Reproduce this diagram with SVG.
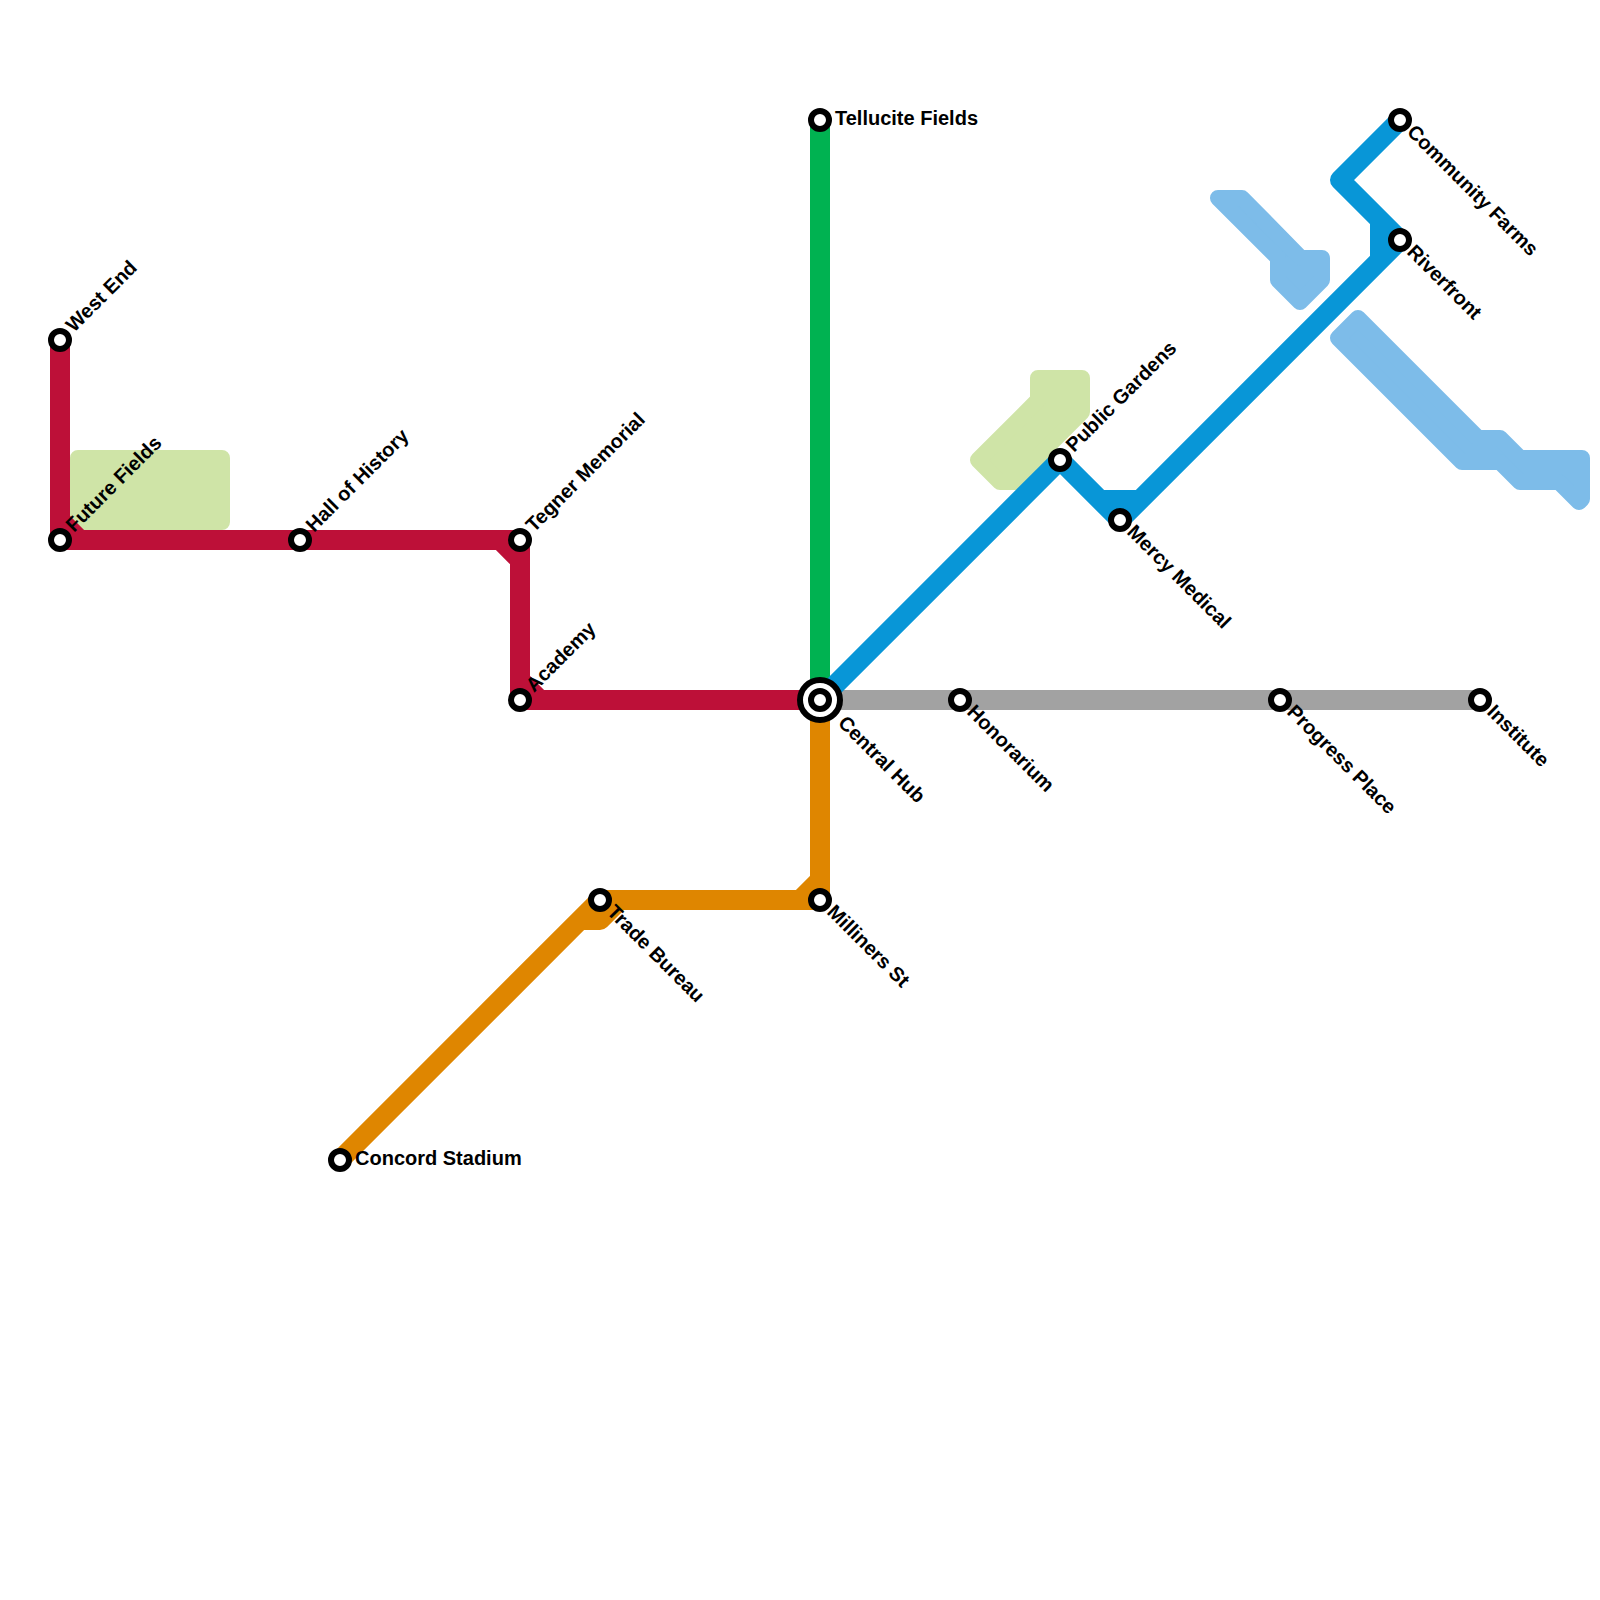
<svg xmlns="http://www.w3.org/2000/svg" width="1600" height="1600" viewBox="0 0 1600 1600">
<style>
.ln{fill:none;stroke-width:20;stroke-linejoin:round;stroke-linecap:butt}
.red{stroke:#bd1038}.grn{stroke:#00b251}.blu{stroke:#0896d7}.org{stroke:#df8600}.gry{stroke:#a2a2a2}
.st{fill:#fff;stroke:#000;stroke-width:6}
.lb{font-family:"Liberation Sans",Arial,sans-serif;font-weight:700;font-size:20px;fill:#000}
.pk{fill:#cfe4a7;stroke:#cfe4a7;stroke-width:16;stroke-linejoin:round}
.wt{fill:#7dbce9;stroke:#7dbce9;stroke-width:16;stroke-linejoin:round}
</style>
<g id="areas">
<polygon class="pk" points="78,458 222,458 222,522 78,522"/>
<polygon class="pk" points="1038,378 1082,378 1082,412 1040,454 1040,482 1000,482 978,460 1038,400"/>
<polygon class="wt" points="1218,198 1242,198 1301,258 1322,258 1322,280 1300,302 1278,280 1278,258"/>
<polygon class="wt" points="1358,318 1478,438 1500,438 1520,458 1582,458 1582,499 1579,502 1559,482 1520,482 1500,462 1462,462 1338,338"/>
</g>
<g id="connectors">
<path class="ln red" d="M60 340V540H520V700H820M500 540L520 560M520 680L540 700M60 520L80 540"/>
<path class="ln grn" d="M820 120V700"/>
<path class="ln gry" d="M820 700H1480"/>
<path class="ln org" d="M820 700V900H600L340 1160M800 900L820 880M600 900L580 920H600L620 900"/>
<path class="ln blu" d="M820 700L1060 460L1120 520L1400 240L1340 180L1400 120M1100 500H1140M1380 220V260"/>
</g>
<g id="st-west-end"><circle class="st" cx="60" cy="340" r="9"/><text class="lb" transform="translate(74 333) rotate(-45)">West End</text></g>
<g id="st-future-fields"><circle class="st" cx="60" cy="540" r="9"/><text class="lb" transform="translate(74 533) rotate(-45)">Future Fields</text></g>
<g id="st-hall-of-history"><circle class="st" cx="300" cy="540" r="9"/><text class="lb" transform="translate(314 533) rotate(-45)">Hall of History</text></g>
<g id="st-tegner-memorial"><circle class="st" cx="520" cy="540" r="9"/><text class="lb" transform="translate(534 533) rotate(-45)">Tegner Memorial</text></g>
<g id="st-academy"><circle class="st" cx="520" cy="700" r="9"/><text class="lb" transform="translate(534 693) rotate(-45)">Academy</text></g>
<g id="st-tellucite-fields"><circle class="st" cx="820" cy="120" r="9"/><text class="lb" x="835" y="125">Tellucite Fields</text></g>
<g id="st-central-hub"><circle class="st" cx="820" cy="700" r="20"/><circle class="st" cx="820" cy="700" r="9"/><text class="lb" transform="translate(837 724) rotate(45)">Central Hub</text></g>
<g id="st-honorarium"><circle class="st" cx="960" cy="700" r="9"/><text class="lb" transform="translate(966 713) rotate(45)">Honorarium</text></g>
<g id="st-progress-place"><circle class="st" cx="1280" cy="700" r="9"/><text class="lb" transform="translate(1286 713) rotate(45)">Progress Place</text></g>
<g id="st-institute"><circle class="st" cx="1480" cy="700" r="9"/><text class="lb" transform="translate(1486 713) rotate(45)">Institute</text></g>
<g id="st-public-gardens"><circle class="st" cx="1060" cy="460" r="9"/><text class="lb" transform="translate(1074 453) rotate(-45)">Public Gardens</text></g>
<g id="st-mercy-medical"><circle class="st" cx="1120" cy="520" r="9"/><text class="lb" transform="translate(1126 533) rotate(45)">Mercy Medical</text></g>
<g id="st-community-farms"><circle class="st" cx="1400" cy="120" r="9"/><text class="lb" transform="translate(1406 133) rotate(45)">Community Farms</text></g>
<g id="st-riverfront"><circle class="st" cx="1400" cy="240" r="9"/><text class="lb" transform="translate(1406 253) rotate(45)">Riverfront</text></g>
<g id="st-trade-bureau"><circle class="st" cx="600" cy="900" r="9"/><text class="lb" transform="translate(606 913) rotate(45)">Trade Bureau</text></g>
<g id="st-milliners-st"><circle class="st" cx="820" cy="900" r="9"/><text class="lb" transform="translate(826 913) rotate(45)">Milliners St</text></g>
<g id="st-concord-stadium"><circle class="st" cx="340" cy="1160" r="9"/><text class="lb" x="355" y="1165">Concord Stadium</text></g>
</svg>
